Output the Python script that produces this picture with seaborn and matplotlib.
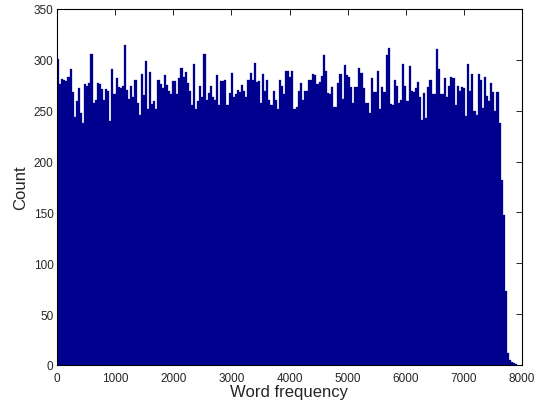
import numpy as np
import pandas as pd
import seaborn as sns
import matplotlib.pyplot as plt

# counts per bin, read left to right off the reference
counts = [
    301, 276, 281, 280, 279, 283, 291, 268, 244, 260, 272, 248, 238, 276, 274,
    277, 306, 258, 261, 277, 276, 271, 261, 271, 269, 240, 291, 266, 282,
    273, 272, 274, 315, 270, 262, 274, 263, 280, 258, 246, 286, 265, 299, 252,
    288, 257, 260, 252, 280, 276, 272, 285, 275, 269, 266, 279, 279, 266, 282,
    292, 283, 288, 277, 269, 256, 296, 252, 260, 274, 263, 306, 261, 267, 274,
    263, 261, 285, 256, 279, 279, 280, 256, 267, 287, 263, 266, 270, 268, 275, 269,
    263, 280, 287, 280, 297, 278, 279, 258, 286, 269, 280, 261, 256, 269, 261,
    252, 280, 274, 266, 289, 289, 283, 289, 252, 254, 269, 277, 261, 269, 269, 280,
    280, 286, 285, 276, 278, 284, 305, 289, 267, 266, 273, 254, 254, 277, 286,
    262, 295, 285, 283, 273, 258, 273, 273, 292, 287, 272, 258, 258, 248, 282, 268,
    268, 289, 252, 273, 268, 305, 312, 257, 256, 280, 274, 258, 261, 296, 274,
    260, 294, 269, 268, 272, 278, 263, 241, 267, 243, 273, 280, 266, 266, 311, 291, 266,
    266, 282, 263, 274, 283, 282, 256, 274, 269, 273, 272, 245, 296, 269, 286,
    250, 246, 286, 280, 253, 283, 264, 260, 277, 268, 250, 268,
    238, 182, 147, 73, 12, 5, 3, 2, 1,
]
bin_width = 36
x_ticks = [0, 1000, 2000, 3000, 4000, 5000, 6000, 7000, 8000]
y_ticks = [0, 50, 100, 150, 200, 250, 300, 350]

n_bins = len(counts)
df = pd.DataFrame({'freq': (np.arange(n_bins) + 0.5) * bin_width, 'count': counts})

sns.set_style('white')
plt.rcParams['font.family'] = ['Liberation Sans', 'DejaVu Sans']
plt.rcParams['xtick.direction'] = 'in'
plt.rcParams['ytick.direction'] = 'in'

fig, ax = plt.subplots(figsize=(5.46, 4.02), dpi=100)
fig.subplots_adjust(left=57/546, right=522/546, top=1-10/402, bottom=1-366/402)

sns.histplot(data=df, x='freq', weights='count', binwidth=bin_width,
             binrange=(0, n_bins * bin_width), ax=ax,
             color='#00008F', alpha=1, edgecolor='#00008F', linewidth=0.2)

ax.set_xlim(0, 8000)
ax.set_ylim(0, 350)
ax.set_xticks(x_ticks)
ax.set_yticks(y_ticks)
ax.tick_params(axis='both', labelsize=8.5, length=4, width=0.6, color='black',
               top=True, right=True)
ax.tick_params(axis='x', pad=5)
ax.tick_params(axis='y', pad=2.5)
for s in ax.spines.values():
    s.set_color('black')
    s.set_linewidth(0.8)
ax.set_xlabel('Word frequency', fontsize=12, labelpad=0)
ax.set_ylabel('Count', fontsize=12, labelpad=4)

fig.savefig('out.png', dpi=100)
